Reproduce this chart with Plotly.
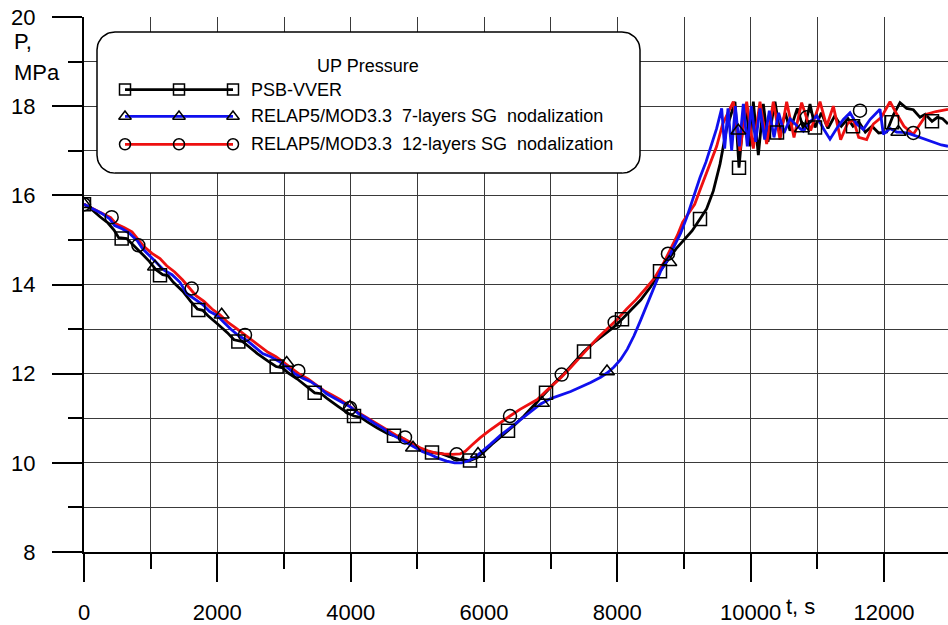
import numpy as np
import plotly.graph_objects as go

# ---------------- data: upper plenum pressure, MPa vs time, s ----------------
# PSB-VVER experiment
psb_t = [0, 120, 240, 360, 450, 520, 640, 720, 850, 980, 1080, 1180, 1260, 1340, 1480, 1600,
         1700, 1780, 1860, 2000, 2150, 2250, 2380, 2460, 2600, 2760, 2880, 2980, 3060, 3200,
         3350, 3460, 3560, 3640, 3800, 3950, 4050, 4150, 4250, 4400, 4550, 4650, 4750, 4850,
         5000, 5120, 5220, 5350, 5480, 5620, 5790, 5900, 6000, 6120, 6250, 6360, 6480, 6600,
         6750, 6900, 7050, 7200, 7350, 7500, 7650, 7800, 7950, 8070, 8200, 8350, 8500, 8640,
         8760, 8880, 9000, 9120, 9240, 9340, 9440, 9540, 9640, 9765, 9825, 9880, 9930, 9990,
         10040, 10115, 10190, 10260, 10365, 10440, 10520, 10590, 10700, 10800, 10890, 10965,
         11060, 11160, 11260, 11360, 11460, 11535, 11620, 11720, 11820, 11920, 12040, 12140,
         12240, 12340, 12440, 12540, 12620, 12720, 12800, 12880, 12960]
psb_p = [15.80, 15.68, 15.52, 15.38, 15.22, 15.05, 15.03, 14.92, 14.72, 14.52, 14.33, 14.22,
         14.20, 14.05, 13.85, 13.62, 13.45, 13.42, 13.30, 13.12, 12.92, 12.76, 12.72, 12.62,
         12.45, 12.28, 12.16, 12.13, 12.02, 11.88, 11.70, 11.57, 11.55, 11.45, 11.28, 11.12,
         11.05, 11.02, 10.92, 10.78, 10.66, 10.61, 10.58, 10.48, 10.36, 10.26, 10.23, 10.21,
         10.14, 10.08, 10.05, 10.12, 10.25, 10.42, 10.58, 10.72, 10.88, 11.05, 11.30, 11.55,
         11.78, 12.00, 12.25, 12.50, 12.70, 12.88, 13.05, 13.22, 13.42, 13.65, 13.95, 14.30,
         14.55, 14.80, 15.00, 15.20, 15.47, 15.70, 16.10, 16.70, 17.50, 18.10, 16.62, 17.55,
         18.05, 17.10, 18.10, 16.90, 18.05, 17.20, 18.10, 17.40, 17.85, 17.45, 17.95, 17.45,
         18.05, 17.52, 17.85, 17.50, 17.78, 17.55, 17.72, 17.55, 17.65, 17.42, 17.55, 17.40,
         17.42, 17.80, 18.08, 17.95, 17.92, 17.75, 17.82, 17.66, 17.75, 17.72, 17.60]
psb_mark_t = [0, 565, 1140, 1715, 2315, 2890, 3460, 4050, 4650, 5220, 5790, 6360, 6930, 7500,
              8070, 8640, 9240, 9825, 10395, 10965, 11535, 12120, 12720]
psb_mark_p = [15.80, 15.03, 14.21, 13.43, 12.72, 12.16, 11.57, 11.05, 10.61, 10.23, 10.05,
              10.72, 11.57, 12.50, 13.22, 14.30, 15.47, 16.62, 17.41, 17.52, 17.55, 17.64, 17.66]

# RELAP5/MOD3.3, 7-layer steam generator nodalization
r7_t = [0, 130, 260, 380, 460, 560, 680, 800, 880, 1000, 1120, 1200, 1320, 1440, 1540, 1660,
        1780, 1880, 2000, 2100, 2200, 2320, 2440, 2560, 2680, 2800, 2920, 3040, 3160, 3280,
        3400, 3520, 3640, 3760, 3880, 4000, 4120, 4240, 4360, 4480, 4600, 4720, 4840, 4960,
        5080, 5200, 5320, 5440, 5560, 5660, 5760, 5860, 5960, 6100, 6250, 6400, 6550, 6700,
        6850, 7000, 7150, 7300, 7450, 7600, 7750, 7850, 7950, 8050, 8150, 8250, 8350, 8450,
        8550, 8650, 8750, 8850, 8950, 9040, 9140, 9240, 9330, 9410, 9490, 9565, 9610, 9660,
        9715, 9770, 9830, 9890, 9950, 10010, 10075, 10140, 10210, 10280, 10350, 10420, 10500,
        10590, 10700, 10790, 10890, 10990, 11090, 11190, 11290, 11390, 11490, 11590, 11690,
        11790, 11880, 11940, 11990, 12090, 12190, 12290, 12390, 12490, 12620, 12740, 12860,
        12960]
r7_p = [15.80, 15.70, 15.60, 15.48, 15.32, 15.26, 15.15, 14.98, 14.80, 14.62, 14.45, 14.32,
        14.22, 14.05, 13.80, 13.68, 13.55, 13.40, 13.30, 13.15, 13.00, 12.85, 12.75, 12.60,
        12.45, 12.38, 12.28, 12.15, 12.00, 11.90, 11.82, 11.70, 11.55, 11.45, 11.35, 11.25,
        11.10, 11.00, 10.88, 10.78, 10.65, 10.55, 10.45, 10.34, 10.25, 10.18, 10.10, 10.04,
        10.00, 10.00, 10.04, 10.12, 10.24, 10.42, 10.62, 10.80, 10.98, 11.16, 11.32, 11.44,
        11.52, 11.60, 11.70, 11.80, 11.92, 12.02, 12.15, 12.32, 12.55, 12.85, 13.20, 13.58,
        13.95, 14.30, 14.55, 14.85, 15.15, 15.50, 15.95, 16.40, 16.75, 17.10, 17.50, 17.95,
        17.05, 17.95, 17.00, 18.00, 17.10, 18.05, 17.10, 18.00, 17.20, 17.95, 17.25, 17.90,
        17.30, 17.85, 17.40, 17.72, 17.55, 17.44, 17.65, 17.78, 17.50, 17.26, 17.50, 17.70,
        17.85, 17.60, 17.48, 17.70, 17.85, 17.93, 17.37, 17.50, 17.42, 17.41, 17.38, 17.33,
        17.25, 17.19, 17.13, 17.10]
r7_mark_t = [0, 1065, 2065, 3040, 3990, 4935, 5910, 6870, 7845, 8780, 9815, 10770, 12215]
r7_mark_p = [15.80, 14.40, 13.32, 12.24, 11.25, 10.34, 10.20, 11.34, 12.05, 14.50, 17.45,
             17.50, 17.42]

# RELAP5/MOD3.3, 12-layer steam generator nodalization
r12_t = [0, 140, 280, 400, 480, 600, 720, 820, 900, 1020, 1140, 1240, 1360, 1480, 1580, 1680,
         1800, 1920, 2040, 2160, 2280, 2400, 2520, 2640, 2760, 2880, 3000, 3120, 3240, 3360,
         3480, 3600, 3720, 3840, 3960, 4080, 4200, 4320, 4440, 4560, 4680, 4800, 4920, 5040,
         5160, 5280, 5400, 5520, 5640, 5720, 5820, 5940, 6080, 6240, 6390, 6540, 6680, 6800,
         6940, 7060, 7160, 7300, 7440, 7580, 7720, 7860, 8000, 8140, 8280, 8420, 8560, 8700,
         8800, 8900, 8980, 9060, 9160, 9260, 9360, 9490, 9580, 9660, 9740, 9840, 9940, 10040,
         10140, 10240, 10340, 10440, 10540, 10650, 10765, 10900, 11040, 11140, 11240, 11350,
         11450, 11540, 11620, 11740, 11840, 11960, 12090, 12200, 12300, 12440, 12540, 12640,
         12780, 12960]
r12_p = [15.80, 15.70, 15.60, 15.50, 15.36, 15.28, 15.18, 15.00, 14.85, 14.70, 14.58, 14.42,
         14.28, 14.10, 13.92, 13.75, 13.62, 13.45, 13.32, 13.15, 13.02, 12.88, 12.76, 12.62,
         12.48, 12.38, 12.25, 12.10, 11.98, 11.88, 11.75, 11.62, 11.52, 11.42, 11.30, 11.16,
         11.05, 10.94, 10.84, 10.72, 10.62, 10.54, 10.44, 10.34, 10.27, 10.22, 10.20, 10.19,
         10.20, 10.26, 10.40, 10.56, 10.72, 10.88, 11.05, 11.20, 11.32, 11.42, 11.62, 11.78,
         11.92, 12.14, 12.38, 12.60, 12.82, 13.02, 13.22, 13.45, 13.66, 13.90, 14.15, 14.50,
         14.80, 15.10, 15.40, 15.58, 15.80, 16.20, 16.60, 17.10, 17.60, 17.85, 18.10, 17.00,
         18.10, 17.05, 18.10, 17.15, 18.10, 17.25, 18.10, 17.30, 18.08, 17.45, 18.10, 17.55,
         18.00, 17.25, 17.60, 17.70, 17.30, 17.25, 17.60, 17.75, 18.10, 17.80, 17.55, 17.37,
         17.60, 17.82, 17.88, 17.93]
r12_mark_t = [0, 415, 815, 1615, 2415, 3215, 3990, 4815, 5590, 6390, 7165, 7960, 8760, 10840,
              11640, 12440]
r12_mark_p = [15.80, 15.51, 14.88, 13.91, 12.87, 12.06, 11.23, 10.57, 10.19, 11.05, 11.98,
              13.15, 14.69, 17.75, 17.90, 17.40]

x_tickvals = [0, 2000, 4000, 6000, 8000, 10000, 12000]
x_ticktext = ["0", "2000", "4000", "6000", "8000", "10000", "12000"]
y_tickvals = [8, 10, 12, 14, 16, 18, 20]

series_names = ["PSB-VVER",
                "RELAP5/MOD3.3\u00a0\u00a07-layers SG\u00a0\u00a0nodalization",
                "RELAP5/MOD3.3\u00a0\u00a012-layers SG\u00a0\u00a0nodalization"]
legend_title = "UP Pressure"

# ---------------- styling ----------------
FONT = "Liberation Sans, Arial, sans-serif"
W, H = 948, 625
M_L, M_R, M_T, M_B = 84, 0, 17, 70
PW, PH = W - M_L - M_R, H - M_T - M_B
GRID = "#3a3a3a"
colors = {"psb": "#000000", "r7": "#1010ee", "r12": "#ee1010"}
symbols = {"psb": "square-open", "r7": "triangle-up-open", "r12": "circle-open"}


def px(x):
    """horizontal pixel -> paper fraction of the plot area"""
    return (x - M_L) / PW


def py(y):
    """vertical pixel (from top) -> paper fraction of the plot area"""
    return (H - M_B - y) / PH


fig = go.Figure()

series = [
    ("psb", psb_t, psb_p, psb_mark_t, psb_mark_p),
    ("r12", r12_t, r12_p, r12_mark_t, r12_mark_p),
    ("r7", r7_t, r7_p, r7_mark_t, r7_mark_p),
]
for key, t, p, mt, mp in series:
    fig.add_trace(go.Scatter(x=t, y=p, mode="lines", showlegend=False, hoverinfo="skip",
                             line=dict(color=colors[key], width=2.8)))
for key, t, p, mt, mp in series:
    fig.add_trace(go.Scatter(x=mt, y=mp, mode="markers", showlegend=False, hoverinfo="skip",
                             marker=dict(symbol=symbols[key], size=13, color="black",
                                         line=dict(color="black", width=1.5))))

# ---------------- legend panel on a pixel-scaled overlay axis ----------------
def rounded_box(x0, y0, x1, y1, r, n=12):
    xs, ys = [], []
    corners = [(x1 - r, y0 + r, -90, 0), (x1 - r, y1 - r, 0, 90),
               (x0 + r, y1 - r, 90, 180), (x0 + r, y0 + r, 180, 270)]
    for cx, cy, a0, a1 in corners:
        a = np.radians(np.linspace(a0, a1, n))
        xs.extend(cx + r * np.cos(a))
        ys.extend(cy + r * np.sin(a))
    xs.append(xs[0])
    ys.append(ys[0])
    return xs, ys


bx, by = rounded_box(97, 32, 640, 174, 18)
fig.add_trace(go.Scatter(x=bx, y=by, xaxis="x2", yaxis="y2", mode="lines", fill="toself",
                         fillcolor="white", line=dict(color="black", width=1.5),
                         showlegend=False, hoverinfo="skip"))

row_y = [90, 117, 145]
sample_x = [125, 179, 233]
legend_keys = ["psb", "r7", "r12"]
for key, yy, name in zip(legend_keys, row_y, series_names):
    fig.add_trace(go.Scatter(x=sample_x, y=[yy] * 3, xaxis="x2", yaxis="y2", mode="lines+markers",
                             line=dict(color=colors[key], width=2.8),
                             marker=dict(symbol=symbols[key], size=11, color="black",
                                         line=dict(color="black", width=1.5)),
                             showlegend=False, hoverinfo="skip"))
    fig.add_annotation(x=249, y=yy, xref="x2", yref="y2", text=name, showarrow=False,
                       xanchor="left", yanchor="middle",
                       font=dict(family=FONT, size=18, color="black"))

fig.add_annotation(x=368, y=66, xref="x2", yref="y2", text=legend_title, showarrow=False,
                   xanchor="center", yanchor="middle", font=dict(family=FONT, size=18, color="black"))

# axis titles
label_font = dict(family=FONT, size=22, color="black")
fig.add_annotation(x=px(12), y=py(42), xref="paper", yref="paper", text="P,", showarrow=False,
                   xanchor="left", yanchor="middle", font=label_font)
fig.add_annotation(x=px(12), y=py(73), xref="paper", yref="paper", text="MPa", showarrow=False,
                   xanchor="left", yanchor="middle", font=label_font)
fig.add_annotation(x=px(784), y=py(610), xref="paper", yref="paper", text="t, s", showarrow=False,
                   xanchor="left", yanchor="middle", font=label_font)

tick_font = dict(family=FONT, size=22, color="black")
fig.update_layout(
    width=W, height=H, autosize=False,
    margin=dict(l=M_L, r=M_R, t=M_T, b=M_B, pad=0),
    paper_bgcolor="white", plot_bgcolor="rgba(0,0,0,0)",
    xaxis=dict(range=[0, 12960], tickmode="array", tickvals=x_tickvals, ticktext=x_ticktext,
               ticks="outside", ticklen=28, tickwidth=1.5,
               tickcolor="black", showline=True, linecolor="black", linewidth=2,
               showgrid=True, gridcolor=GRID, gridwidth=1, zeroline=False,
               tickfont=tick_font, ticklabelstandoff=12,
               minor=dict(dtick=1000, tick0=0, ticks="outside", ticklen=15, tickwidth=1.5,
                          tickcolor="black", showgrid=True, gridcolor=GRID, gridwidth=1)),
    yaxis=dict(range=[8, 20], tickmode="array", tickvals=y_tickvals,
               ticks="outside", ticklen=30, tickwidth=1.5,
               tickcolor="black", showline=True, linecolor="black", linewidth=2,
               showgrid=True, gridcolor=GRID, gridwidth=1, zeroline=False,
               tickfont=tick_font, ticklabelstandoff=12,
               minor=dict(dtick=1, tick0=0, ticks="outside", ticklen=14, tickwidth=1.5,
                          tickcolor="black", showgrid=True, gridcolor=GRID, gridwidth=1)),
    xaxis2=dict(domain=[0, 1], range=[M_L, W], visible=False, anchor="y2", fixedrange=True),
    yaxis2=dict(domain=[0, 1], range=[H - M_B, M_T], visible=False, anchor="x2", fixedrange=True),
)

fig.write_html("out.html")
